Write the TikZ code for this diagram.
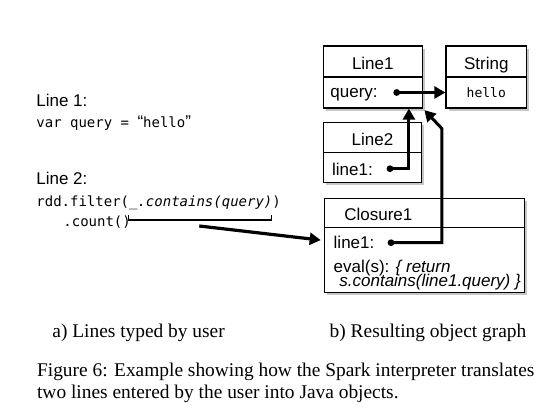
\documentclass[tikz,border=0pt]{standalone}
\usepackage{fontspec}
\setmainfont{Liberation Serif}
\setsansfont{Liberation Sans}
\setmonofont{DejaVu Sans Mono}
\usetikzlibrary{arrows.meta,shadows,calc}

\tikzset{
  objbox/.style={draw, fill=white, line width=0.6pt, inner sep=0pt,
    drop shadow={shadow xshift=1.3pt, shadow yshift=-1.3pt, opacity=0.45}},
  objhead/.style={objbox, font=\sffamily\fontsize{8.5}{10}\selectfont, text height=8pt, text depth=0pt},
  fieldtxt/.style={anchor=base west, inner sep=0pt, font=\sffamily\fontsize{8.5}{10}\selectfont},
  codetxt/.style={anchor=base west, inner sep=0pt, font=\ttfamily\fontsize{7}{8}\selectfont},
  captxt/.style={anchor=base west, inner sep=0pt, font=\fontsize{9.7}{11}\selectfont},
  ptr/.style={line width=1.5pt, -{Triangle[length=5.5pt,width=6pt]}},
}

\begin{document}
\begin{tikzpicture}[x=0.5pt,y=-0.5pt]
\useasboundingbox (0,0) rectangle (546,418);

% lines typed by user
\node[fieldtxt] (t1) at (36,106.3) {Line 1:};
\node[codetxt] (c1) at (36,127.3) {var query = {\sffamily\fontsize{8.5}{10}\selectfont “}hello{\sffamily\fontsize{8.5}{10}\selectfont ”}};
\node[fieldtxt] (t2) at (36,184.7) {Line 2:};
\node[codetxt] (c2) at (36,206.3) {rdd.filter(\textit{\_.contains(query)})};
\node[codetxt] (c3) at (63,226.5) {.count()};

\draw[line width=0.8pt] (128.5,214.5) -- (128.5,220) -- (271.5,220) -- (271.5,214.5);
\coordinate (codeout) at (199.3,226);

% object graph
\node[objhead, minimum width=49.5pt, minimum height=15.5pt] (l1h) at (372.8,61.5) {Line1};
\node[objbox, minimum width=49.5pt, minimum height=15.5pt] (l1b) at (372.8,92.5) {};

\node[objhead, minimum width=40.3pt, minimum height=15.5pt] (sh) at (486.3,61.5) {String};
\node[objbox, minimum width=40.3pt, minimum height=15.5pt,
  font=\ttfamily\fontsize{6.5}{8}\selectfont, text height=5pt, text depth=0.2pt] (sb) at (486.3,92.5) {hello};

\node[objhead, minimum width=49.2pt, minimum height=15.2pt] (l2h) at (372.5,137.5) {Line2};
\node[objbox, minimum width=49.2pt, minimum height=15pt] (l2b) at (372.5,167.7) {};

\node[objhead, minimum width=100pt, minimum height=14.5pt, text width=80pt, align=left] (ch) at (424.3,212.8) {Closure1};
\node[objbox, minimum width=100pt, minimum height=32.5pt] (cb) at (424.3,259.8) {};

\node[fieldtxt] (qf) at (330,97.7) {query:};
\node[fieldtxt] (l2f) at (331.7,175) {line1:};
\node[fieldtxt] (cf) at (333.3,248.3) {line1:};
\node[fieldtxt] (ev1) at (333.3,272) {eval(s): \textit{\{ return}};
\node[fieldtxt] (ev2) at (339,286.3) {\textit{s.contains(line1.query) \}}};

% references
\coordinate (qdot) at (396.7,92.5);
\coordinate (l2dot) at (390,168.7);
\coordinate (cdot) at (391,242.7);
\foreach \d in {qdot,l2dot,cdot}
  \fill (\d) circle (1.7pt);

\draw[ptr] (qdot) -- (qdot -| sb.west);
\draw[ptr] (l2dot) -| ($(l1b.south east)+(-14,0)$);
\draw[ptr] (cdot) -| ($(l1b.south east)+(19,20)$) -- ($(l1b.south east)+(1.5,1.5)$);
\draw[ptr, line width=1.6pt] (codeout) -- ($(cb.north west)+(-3,13.4)$);

% captions
\node[captxt] (capa) at (52,337.3) {a) Lines typed by user};
\node[captxt] (capb) at (329.3,337.3) {b) Resulting object graph};
\node[captxt] (fig1) at (36.7,376.7) {Figure 6: Example showing how the Spark interpreter translates};
\node[captxt] (fig2) at (36.7,398.3) {two lines entered by the user into Java objects.};
\end{tikzpicture}
\end{document}
